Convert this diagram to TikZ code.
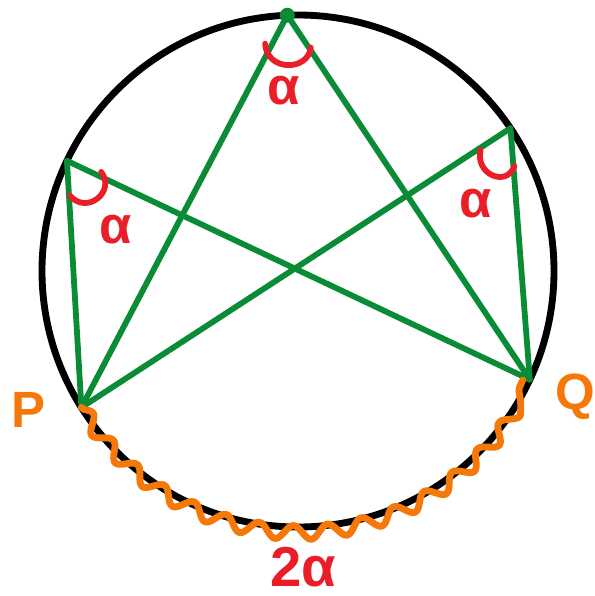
\documentclass[tikz,border=0pt]{standalone}
\usepackage{fontspec}
\setmainfont{Liberation Sans}
\usetikzlibrary{calc,decorations.pathmorphing}

\definecolor{chordgreen}{RGB}{10,140,54}
\definecolor{markred}{RGB}{234,30,40}
\definecolor{waveorange}{RGB}{245,120,10}

\begin{document}
\begin{tikzpicture}[x=0.02cm,y=0.02cm,line cap=round,line join=round,
    chord/.style={draw=chordgreen,line width=3.3pt},
    anglemark/.style={draw=markred,line width=3.3pt},
    arcwave/.style={draw=waveorange,line width=3.9pt,decorate,
      decoration={snake,amplitude=4pt,segment length=20pt}},
    ptlabel/.style={text=waveorange,inner sep=0pt,font=\fontsize{29}{30}\selectfont\bfseries},
    anglabel/.style={text=markred,inner sep=0pt,font=\fontsize{30}{30}\selectfont\bfseries}]
  \useasboundingbox (0,0) rectangle (595,-596);
  % Circle
  \coordinate (C) at (298,-271);
  \draw[line width=3.9pt] (C) circle[radius=256];
  % Points on the circle
  \foreach \name/\ang in {T/92.4,L/154.5,R/33.9,P/212.2,Q/334.9}
    \coordinate (\name) at ($(C)+(\ang:256)$);
  % Chords
  \foreach \a/\b in {T/P,T/Q,L/P,L/Q,R/P,R/Q}
    \draw[chord] (\a) -- (\b);
  \fill[chordgreen] (T) circle[radius=7.5];
  % Angle marks
  \draw[anglemark] ($(T)+(232:36)$) .. controls ($(T)+(250:60)$) and ($(T)+(290:60)$) .. ($(T)+(306:40)$);
  \draw[anglemark] ($(L)+(275:35)$) .. controls ($(L)+(290:58)$) and ($(L)+(328:58)$) .. ($(L)+(342:36)$);
  \draw[anglemark] ($(R)+(216:37)$) .. controls ($(R)+(232:58)$) and ($(R)+(266:60)$) .. ($(R)+(276:38)$);
  % Arc PQ
  \draw[arcwave] (P) arc[start angle=212.2,end angle=334.9,radius=252];
  % Labels
  \node[ptlabel] (labP) at (28,-410) {P};
  \node[ptlabel] (labQ) at (575,-397) {Q};
  \node[anglabel] (angT) at (284,-91) {α};
  \node[anglabel] (angL) at (116,-230) {α};
  \node[anglabel] (angR) at (476,-204) {α};
  \node[anglabel,font=\fontsize{32}{32}\selectfont\bfseries] (angPQ) at (303,-567) {2α};
\end{tikzpicture}
\end{document}
